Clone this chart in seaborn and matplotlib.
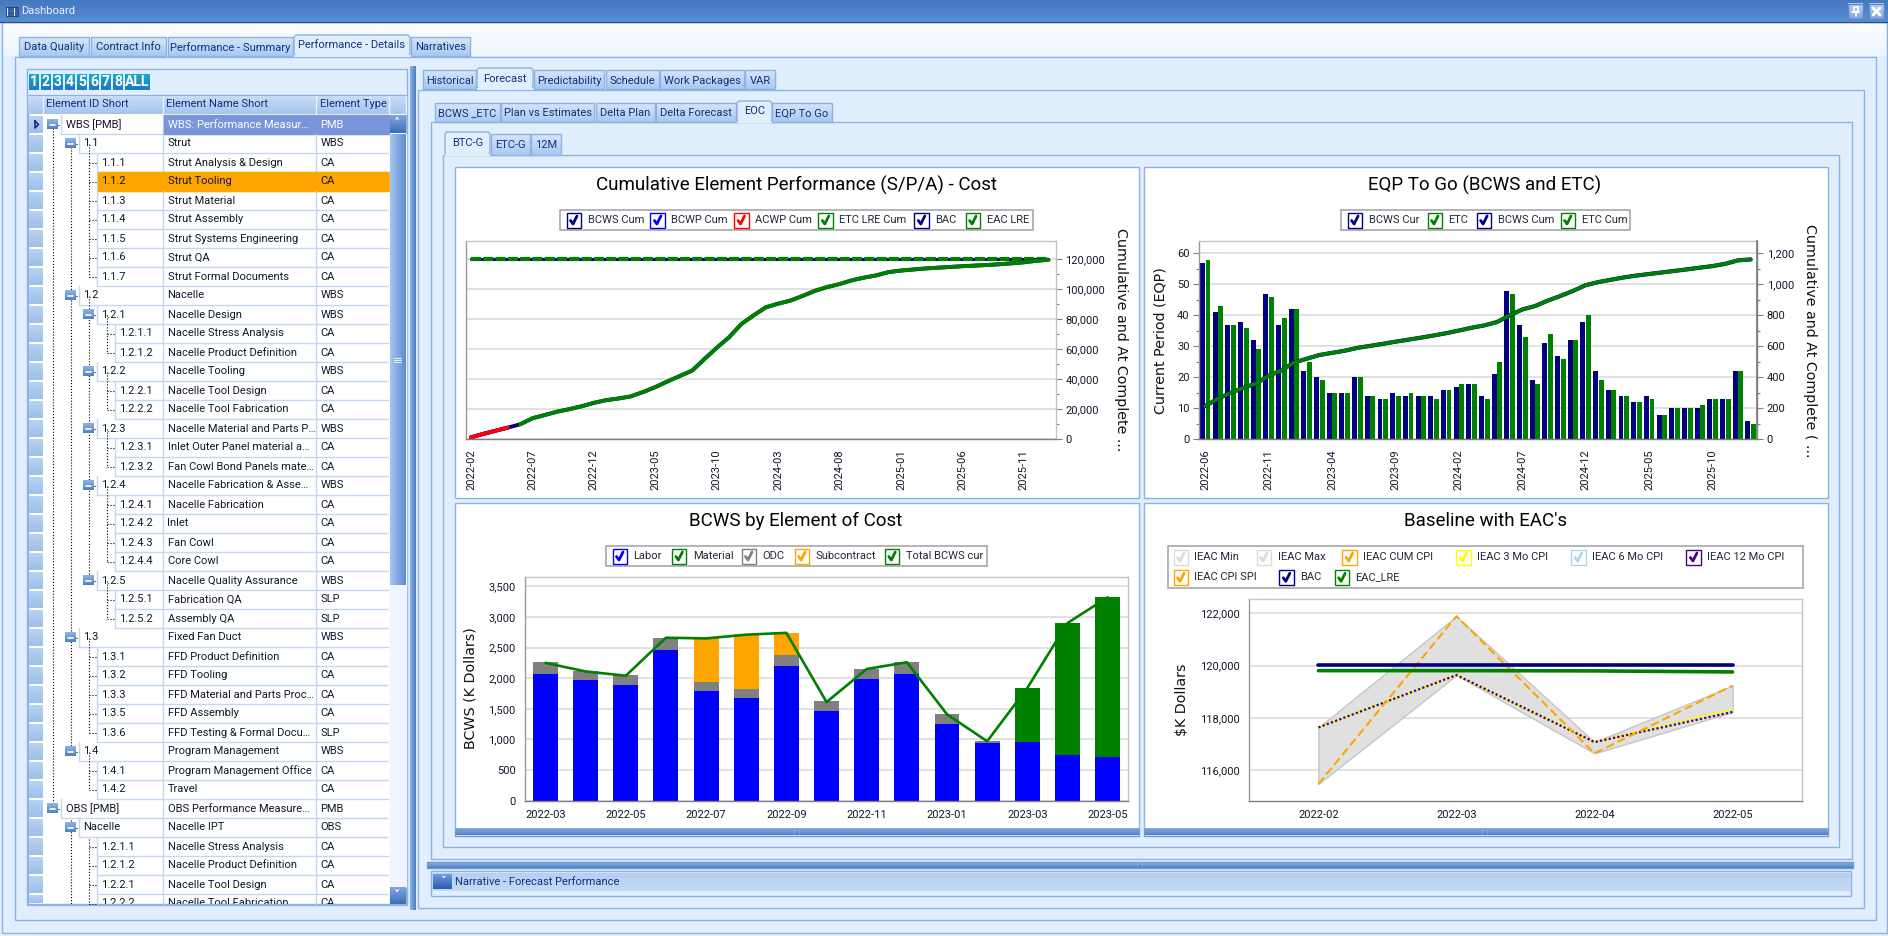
import matplotlib
matplotlib.use("Agg")
import matplotlib.pyplot as plt
import numpy as np
import seaborn as sns
from matplotlib.patches import Rectangle, FancyBboxPatch

W, H = 1888, 936

# cumulative element performance
perf_months = [f"{y}-{m:02d}" for y in range(2022, 2026) for m in range(1, 13)][1:] + ["2026-01"]
bcws_cum = [1300, 3600, 5700, 7800, 10000, 14000, 16200, 18400, 20100, 22000, 24300, 26100,
            27200, 28600, 31500, 34800, 38600, 42200, 45800, 53500, 61000, 68000, 76800, 82600,
            88000, 90400, 92500, 95600, 99000, 101500, 103500, 106000, 107800, 109300, 111500, 112500,
            113200, 113900, 114400, 114900, 115400, 115800, 116200, 116700, 117300, 118000, 119000, 119700]
bcwp_cum = [1300, 3600, 5700, 7800]
acwp_cum = [1300, 3600, 5700, 7800]
bac_flat = [120000] * 48
eac_flat = [119950] * 48

# EQP to go
eqp_months = perf_months[4:]
eqp_bcws = [57, 41, 37, 38, 32, 47, 37, 42, 22, 20, 15, 15, 20, 14, 13, 15, 14, 14, 14, 16, 17, 18,
            14, 21, 48, 37, 19, 31, 27, 32, 38, 22, 16, 14, 12, 14, 8, 10, 10, 10, 13, 13, 22, 6]
eqp_etc = [58, 43, 37, 36, 29, 46, 39, 42, 25, 19, 15, 15, 20, 14, 13, 14, 15, 14, 13, 16, 18, 18,
           13, 25, 47, 33, 18, 34, 26, 32, 40, 19, 16, 14, 12, 13, 8, 10, 10, 11, 13, 13, 22, 5]
eqp_etc_cum = [215, 262, 300, 332, 360, 410, 445, 495, 520, 544, 558, 572, 590, 603, 616, 630, 643, 656,
               670, 685, 702, 720, 735, 757, 800, 838, 860, 895, 925, 958, 995, 1015, 1030, 1045, 1057,
               1067, 1077, 1087, 1097, 1108, 1118, 1133, 1155, 1161]

# BCWS by element of cost
eoc_months = perf_months[1:16]
eoc_labor = [2070, 1970, 1890, 2460, 1790, 1680, 2200, 1460, 1990, 2070, 1250, 950, 960, 740, 720]
eoc_odc = [190, 140, 160, 190, 150, 140, 180, 160, 160, 190, 160, 20, 0, 0, 0]
eoc_sub = [0, 0, 0, 0, 710, 895, 360, 0, 0, 0, 0, 0, 0, 0, 0]
eoc_material = [0, 0, 0, 0, 0, 0, 0, 0, 0, 0, 0, 0, 880, 2160, 2600]
eoc_total = [2250, 2110, 2040, 2660, 2650, 2710, 2740, 1610, 2150, 2260, 1410, 970, 1840, 2900, 3320]

# baseline with EACs
eac_months = ["2022-02", "2022-03", "2022-04", "2022-05"]
ieac_min = [115480, 119640, 116650, 118230]
ieac_max = [117640, 121890, 117080, 119240]
ieac_cum_cpi = [115480, 121890, 116650, 119240]
ieac_3mo = [117640, 119640, 117080, 118330]
ieac_6mo = [117640, 119640, 117080, 118250]
ieac_12mo = [117640, 119640, 117080, 118230]
base_bac = [120010, 120010, 120010, 120010]
base_eac = [119810, 119810, 119800, 119760]

# element tree: level, has expander, id, name, type
tree_rows = [
    (0, 1, "WBS [PMB]", "WBS: Performance Measur…", "PMB"),
    (1, 1, "1.1", "Strut", "WBS"),
    (2, 0, "1.1.1", "Strut Analysis & Design", "CA"),
    (2, 0, "1.1.2", "Strut Tooling", "CA"),
    (2, 0, "1.1.3", "Strut Material", "CA"),
    (2, 0, "1.1.4", "Strut Assembly", "CA"),
    (2, 0, "1.1.5", "Strut Systems Engineering", "CA"),
    (2, 0, "1.1.6", "Strut QA", "CA"),
    (2, 0, "1.1.7", "Strut Formal Documents", "CA"),
    (1, 1, "1.2", "Nacelle", "WBS"),
    (2, 1, "1.2.1", "Nacelle Design", "WBS"),
    (3, 0, "1.2.1.1", "Nacelle Stress Analysis", "CA"),
    (3, 0, "1.2.1.2", "Nacelle Product Definition", "CA"),
    (2, 1, "1.2.2", "Nacelle Tooling", "WBS"),
    (3, 0, "1.2.2.1", "Nacelle Tool Design", "CA"),
    (3, 0, "1.2.2.2", "Nacelle Tool Fabrication", "CA"),
    (2, 1, "1.2.3", "Nacelle Material and Parts P…", "WBS"),
    (3, 0, "1.2.3.1", "Inlet Outer Panel material a…", "CA"),
    (3, 0, "1.2.3.2", "Fan Cowl Bond Panels mate…", "CA"),
    (2, 1, "1.2.4", "Nacelle Fabrication & Asse…", "WBS"),
    (3, 0, "1.2.4.1", "Nacelle Fabrication", "CA"),
    (3, 0, "1.2.4.2", "Inlet", "CA"),
    (3, 0, "1.2.4.3", "Fan Cowl", "CA"),
    (3, 0, "1.2.4.4", "Core Cowl", "CA"),
    (2, 1, "1.2.5", "Nacelle Quality Assurance", "WBS"),
    (3, 0, "1.2.5.1", "Fabrication QA", "SLP"),
    (3, 0, "1.2.5.2", "Assembly QA", "SLP"),
    (1, 1, "1.3", "Fixed Fan Duct", "WBS"),
    (2, 0, "1.3.1", "FFD Product Definition", "CA"),
    (2, 0, "1.3.2", "FFD Tooling", "CA"),
    (2, 0, "1.3.3", "FFD Material and Parts Proc…", "CA"),
    (2, 0, "1.3.5", "FFD Assembly", "CA"),
    (2, 0, "1.3.6", "FFD Testing & Formal Docu…", "SLP"),
    (1, 1, "1.4", "Program Management", "WBS"),
    (2, 0, "1.4.1", "Program Management Office", "CA"),
    (2, 0, "1.4.2", "Travel", "CA"),
    (0, 1, "OBS [PMB]", "OBS Performance Measure…", "PMB"),
    (1, 1, "Nacelle", "Nacelle IPT", "OBS"),
    (2, 0, "1.2.1.1", "Nacelle Stress Analysis", "CA"),
    (2, 0, "1.2.1.2", "Nacelle Product Definition", "CA"),
    (2, 0, "1.2.2.1", "Nacelle Tool Design", "CA"),
    (2, 0, "1.2.2.2", "Nacelle Tool Fabrication", "CA"),
]

BG = "#e0eefd"
EDGE = "#8db2e3"
NAVY_TEXT = "#15307f"
INK = "#10182a"
NAVY, BLUE, GREEN, RED = "#000080", "#0000ff", "#008000", "#ff0000"
ORANGE, GREY = "#ffa500", "#808080"
AXIS_TITLE_SIZE = 10.3

sns.set_theme(style="white")
plt.rcParams["font.family"] = ["Roboto", "DejaVu Sans"]
plt.rcParams["axes.unicode_minus"] = False

fig = plt.figure(figsize=(W / 100, H / 100), dpi=100, facecolor=BG)
ui = fig.add_axes([0, 0, 1, 1], zorder=0)
ui.axis("off")


def box(x0, y0, x1, y1, face="none", edge=EDGE, lw=1.0, zorder=1):
    ui.add_patch(Rectangle((x0, y0), x1 - x0, y1 - y0, facecolor=face, edgecolor=edge, linewidth=lw, zorder=zorder))


def grad(x0, y0, x1, y1, c0, c1, horizontal=False, zorder=1):
    c = np.array([matplotlib.colors.to_rgb(c0), matplotlib.colors.to_rgb(c1)])
    t = np.linspace(0, 1, 32)[:, None]
    img = c[0] + (c[1] - c[0]) * t
    img = img[None, :, :] if horizontal else img[:, None, :]
    ui.imshow(img, extent=(x0, x1, y1, y0), aspect="auto", zorder=zorder, interpolation="bilinear")


def label(x, y, s, size=8.0, color=INK, ha="left", zorder=6, **kw):
    return ui.text(x, y, s, fontsize=size, color=color, ha=ha, va="center", zorder=zorder, **kw)


def tabs(items, y0, y1, active):
    for i, (name, x0, x1) in enumerate(items):
        if i == active:
            ui.add_patch(FancyBboxPatch((x0, y0 - 2), x1 - x0, y1 - y0 + 2, boxstyle="round,pad=0,rounding_size=3",
                                        facecolor=BG, edgecolor=EDGE, linewidth=1, zorder=3))
            ui.plot([x0 + 0.8, x1 - 0.8], [y1, y1], color=BG, lw=1.6, zorder=4)
            label((x0 + x1) / 2, (y0 + y1) / 2 - 1, name, ha="center", color=NAVY_TEXT)
        else:
            grad(x0, y0, x1, y1, "#d6e6fa", "#a9c9ef")
            box(x0, y0, x1, y1)
            label((x0 + x1) / 2, (y0 + y1) / 2 + 1, name, ha="center", color=NAVY_TEXT)


def splitter_h(x0, y0, x1, y1):
    grad(x0, y0, x1, y1, "#8db5e8", "#4f7dbf")
    box(x0, y0, x1, y1, edge="#6f9ad6")
    label((x0 + x1) / 2, (y0 + y1) / 2 - 1, "⋮⋮", size=4, color="#d8e6f8", ha="center", family="DejaVu Sans")


def check_legend(frame, items):
    box(*frame, face="white", edge="#a8a8a8", lw=1.2)
    for name, color, x, y in items:
        box(x, y - 7.5, x + 14.5, y + 7.5, face="white", edge=color, lw=1.0, zorder=3)
        ui.plot([x + 4, x + 6.5, x + 10.5], [y + 0.5, y + 4, y - 4], color=color, lw=2.0, zorder=4)
        label(x + 21, y, name, size=8.0, color="#222a38")


# window chrome
box(0, 0, W, H, face=BG, edge=BG)
grad(2, 23, W - 2, 56, "#fbfdff", "#eef5fe")
grad(0, 0, W, 22, "#4578c0", "#568fd2")
ui.plot([0, W], [22, 22], color="#2c4f96", lw=1, zorder=2)
box(1.5, 22, W - 1.5, 933, edge=EDGE)
box(6, 7, 18, 16, face="white", edge="#334466", lw=0.8, zorder=3)
for gx in (8.5, 12, 15.5):
    for gy in (9, 11.5, 14):
        ui.plot([gx], [gy], marker="s", ms=1.3, color="#3355aa", zorder=4)
label(21, 11.5, "Dashboard", size=8.0, color="#e8f0fb")
for bx in (1848, 1869):
    grad(bx, 3.5, bx + 15, 19, "#c0d6f6", "#7ca3dc", zorder=3)
    box(bx, 3.5, bx + 15, 19, edge="#5f86c4", zorder=4)
ui.plot([1852, 1859], [12, 12], color="white", lw=1.4, zorder=5)
ui.plot([1853.5, 1853.5, 1857.5, 1857.5], [12, 7, 7, 12], color="white", lw=1.2, zorder=5)
ui.plot([1855.5, 1855.5], [12, 16], color="white", lw=1.2, zorder=5)
ui.plot([1873, 1880], [8, 15], color="white", lw=2, zorder=5)
ui.plot([1873, 1880], [15, 8], color="white", lw=2, zorder=5)

box(14.5, 56.5, 1875.5, 920, face=BG, edge=EDGE)
tabs([("Data Quality", 19, 89), ("Contract Info", 91, 166), ("Performance - Summary", 168, 293),
      ("Performance - Details", 294, 410), ("Narratives", 411, 470)], 37, 56, 3)

# left grid
box(26.5, 68.5, 407, 905, face=BG, edge=EDGE)
strip_x = [29, 41, 53, 65, 77, 89, 101, 113]
for n, sx in enumerate(strip_x):
    grad(sx, 74, sx + 10, 90, "#18acc8", "#1c78c4", zorder=3)
    label(sx + 5, 82, str(n + 1), size=10, color="white", ha="center", weight="bold")
grad(125, 74, 150, 90, "#18acc8", "#1c78c4", zorder=3)
label(137.5, 82, "ALL", size=10, color="white", ha="center", weight="bold")

ROW0, ROWH = 115, 19
GRID_BOTTOM = 904
box(28, 95, 406, GRID_BOTTOM, face="white", edge=EDGE)
for x0, x1, name in ((28, 43, ""), (43, 163, "Element ID Short"), (163, 316, "Element Name Short"),
                     (316, 389, "Element Type"), (389, 406, "")):
    grad(x0, 96, x1, 114, "#c8dcf6", "#a6c5ec", zorder=2)
    ui.plot([x1, x1], [96, 114], color="#e8f1fc", lw=1, zorder=3)
    if name:
        label(x0 + 3.5, 104, name, color=NAVY_TEXT)

clip = Rectangle((28, 95), 361, GRID_BOTTOM - 95, transform=ui.transData)
LEVEL_X = [61, 79, 97, 115]
for i, (lev, exp, rid, name, typ) in enumerate(tree_rows):
    y0 = ROW0 + i * ROWH
    y1 = y0 + ROWH
    cy = y0 + 9.5
    if y0 >= GRID_BOTTOM:
        break
    y_end = min(y1, GRID_BOTTOM)
    grad(28.5, y0 + 1, 42.5, y_end - 1, "#b7d2f3", "#9ec0ea", zorder=2)
    ui.plot([163, 163], [y0, y_end], color="#c3d7f2", lw=1, zorder=2)
    ui.plot([316, 316], [y0, y_end], color="#c3d7f2", lw=1, zorder=2)
    ui.plot([LEVEL_X[lev], LEVEL_X[lev]], [y0, y_end], color="#c3d7f2", lw=1, zorder=2)
    if y1 <= GRID_BOTTOM:
        ui.plot([LEVEL_X[lev], 388], [y1, y1], color="#c3d7f2", lw=1, zorder=2)
    if i == 0:
        box(163.5, y0, 388.5, y1, face="#7a95dc", edge="#7a95dc", zorder=2)
        ui.plot([35, 35, 38.5, 35], [cy - 3.5, cy + 3.5, cy, cy - 3.5], color="#15307f", lw=1.2, zorder=4)
    if i == 3:
        box(97.5, y0, 388.5, y1 - 0.5, face=ORANGE, edge=ORANGE, zorder=2)
    color = "white" if i == 0 else INK
    for tx, s, c in ((LEVEL_X[lev] + 4.5, rid, INK), (167.5, name, color), (320.5, typ, color)):
        t = label(tx, cy, s, color=c)
        t.set_clip_on(True)
        t.set_clip_path(clip)
    bx = LEVEL_X[lev] - 8.5
    if exp:
        grad(bx - 5.5, cy - 5, bx + 5.5, cy + 5, "#8fb4e6", "#4f80c4", zorder=4)
        ui.plot([bx - 2.5, bx + 2.5], [cy, cy], color="white", lw=1.2, zorder=5)
        ui.plot([bx + 5.5, bx + 8], [cy, cy], color="black", lw=0.8, ls=":", zorder=2)
    else:
        ui.plot([bx, bx + 8], [cy, cy], color="black", lw=0.8, ls=":", zorder=2)

# dotted tree guides, one per parent block
for x_line, start, stop in ((52.5, 0, 36), (70.5, 1, 33), (88.5, 1, 8), (88.5, 9, 24), (106.5, 10, 12),
                            (106.5, 13, 15), (106.5, 16, 18), (106.5, 19, 23), (106.5, 24, 26),
                            (88.5, 27, 32), (88.5, 33, 35), (70.5, 36.6, 41.3), (88.5, 37.6, 41.3)):
    ui.plot([x_line, x_line], [ROW0 + start * ROWH + 9.5, min(ROW0 + stop * ROWH + 9.5, GRID_BOTTOM)],
            color="black", lw=0.8, ls=":", zorder=2)

# scrollbar
box(389.5, 134, 406, 887, face="#eef5fe", edge="#eef5fe", zorder=2)
grad(389.5, 115, 405.5, 133, "#7ea6e0", "#3f6fb8", zorder=3)
label(397.5, 123, "˄", size=9, color="white", ha="center", family="DejaVu Sans", weight="bold")
grad(389.5, 134, 405.5, 585, "#a3c6f0", "#5f8bcc", horizontal=True, zorder=3)
for gy in (357.5, 359.5, 361.5):
    ui.plot([394, 401], [gy, gy], color="#e2edfb", lw=0.8, zorder=4)
grad(389.5, 887, 405.5, 904, "#7ea6e0", "#3f6fb8", zorder=3)
label(397.5, 895, "˅", size=9, color="white", ha="center", family="DejaVu Sans", weight="bold")

grad(410, 66, 416, 910, "#8db5e8", "#4f7dbf", horizontal=True)

# right side frames
box(418, 89.5, 1864, 908, edge=EDGE)
tabs([("Historical", 423, 476), ("Forecast", 477, 533), ("Predictability", 534, 604), ("Schedule", 606, 659),
      ("Work Packages", 660, 744), ("VAR", 745, 775)], 70, 89, 1)
box(430.5, 122, 1852, 859, edge=EDGE)
tabs([("BCWS _ETC", 435, 500), ("Plan vs Estimates", 501, 594), ("Delta Plan", 596, 655),
      ("Delta Forecast", 656, 736), ("EOC", 737, 772), ("EQP To Go", 772, 832)], 103, 122, 4)
box(442.5, 155, 1839, 847, edge=EDGE)
tabs([("BTC-G", 445, 490), ("ETC-G", 491, 530), ("12M", 531, 561)], 134, 155, 0)

for x0, x1 in ((454.5, 1139), (1143.5, 1827.5)):
    box(x0, 167, x1, 498, face="white", edge=EDGE)
    box(x0, 503, x1, 829, face="white", edge=EDGE)
    splitter_h(x0, 829, x1, 835.5)
splitter_h(427, 862, 1853, 868)

box(431, 871, 1851, 896, edge=EDGE)
grad(431.5, 873, 1850.5, 891, "#b4d0f2", "#c4daf5")
grad(433, 874, 452, 889, "#6f9be0", "#2c5cb0", zorder=3)
label(442.5, 881, "˅", size=8, color="white", ha="center", family="DejaVu Sans", weight="bold")
label(455, 882, "Narrative - Forecast Performance", color=NAVY_TEXT)

# legends
check_legend((560, 209.7, 1032.6, 230.3), [
    ("BCWS Cum", NAVY, 566.5, 220), ("BCWP Cum", BLUE, 650.4, 220), ("ACWP Cum", RED, 734, 220),
    ("ETC LRE Cum", GREEN, 818.3, 220), ("BAC", NAVY, 914.3, 220), ("EAC LRE", GREEN, 965.6, 220)])
check_legend((1341, 209.7, 1629.7, 230.3), [
    ("BCWS Cur", NAVY, 1347.6, 220), ("ETC", GREEN, 1427.5, 220), ("BCWS Cum", NAVY, 1476.6, 220),
    ("ETC Cum", GREEN, 1560.5, 220)])
check_legend((606, 545.7, 986.6, 566.3), [
    ("Labor", BLUE, 612.5, 556), ("Material", GREEN, 671.9, 556), ("ODC", GREY, 741.5, 556),
    ("Subcontract", ORANGE, 794.6, 556), ("Total BCWS cur", GREEN, 884.8, 556)])
check_legend((1167.7, 545.7, 1803.4, 588.3), [
    ("IEAC Min", "#dcdcdc", 1173.5, 557), ("IEAC Max", "#dcdcdc", 1256.5, 557), ("IEAC CUM CPI", ORANGE, 1342.2, 557),
    ("IEAC 3 Mo CPI", "#ffff00", 1456, 557), ("IEAC 6 Mo CPI", "#add8e6", 1571.2, 557),
    ("IEAC 12 Mo CPI", "#4b0082", 1686.4, 557), ("IEAC CPI SPI", ORANGE, 1173.5, 577.3),
    ("BAC", NAVY, 1279.3, 577.3), ("EAC_LRE", GREEN, 1334.6, 577.3)])


def chart_axes(x0, y0, x1, y1):
    ax = fig.add_axes([x0 / W, 1 - y1 / H, (x1 - x0) / W, (y1 - y0) / H], zorder=2, facecolor="white")
    ax._px = (x0, y0, x1, y1)
    return ax


def style_axes(ax, title, title_cx, title_cy, ylabel, label_x, label_cy, right=False):
    x0, y0, x1, y1 = ax._px
    ax.set_title(title, x=(title_cx - x0) / (x1 - x0), y=(y1 - title_cy) / (y1 - y0), va="center",
                 fontsize=13.5, color="black", pad=0)
    if right:
        ax.yaxis.set_label_position("right")
    ax.set_ylabel(ylabel, fontsize=AXIS_TITLE_SIZE, family=["DejaVu Sans"], color="#111111",
                  rotation=270 if right else 90, va="center", ha="center")
    ax.yaxis.set_label_coords((label_x - x0) / (x1 - x0), (y1 - label_cy) / (y1 - y0))
    for side, c in (("top", "#c4c4c4"), ("left", "#999999"), ("right", "#c4c4c4"), ("bottom", "#808080")):
        ax.spines[side].set_color(c)
        ax.spines[side].set_linewidth(1.0)
        ax.spines[side].set_visible(True)
    ax.set_axisbelow(True)
    ax.grid(False)
    ax.yaxis.grid(True, color="#dcdcdc", lw=1.2)
    ax.tick_params(axis="both", which="major", length=4, width=0.8, color="#808080", labelsize=8, labelcolor=INK, pad=3)
    ax.tick_params(axis="both", which="minor", length=2.5, width=0.8, color="#808080")
    ax.set_xlabel("")


def fmt_y(ax, ticks):
    ax.set_yticks(ticks)
    ax.set_yticklabels([f"{t:,}" for t in ticks])


# chart 1
ax1 = chart_axes(465.6, 241, 1055.8, 439.3)
idx1 = np.arange(len(perf_months))
sns.lineplot(x=idx1, y=bac_flat, color=NAVY, linewidth=2.2, ax=ax1, errorbar=None)
sns.lineplot(x=idx1, y=eac_flat, color=GREEN, linewidth=3.0, linestyle=(0, (2.4, 0.55)), ax=ax1, errorbar=None)
sns.lineplot(x=idx1, y=bcws_cum, color=NAVY, linewidth=2.8, ax=ax1, errorbar=None)
sns.lineplot(x=idx1[:4], y=bcwp_cum, color=BLUE, linewidth=2.8, ax=ax1, errorbar=None)
sns.lineplot(x=idx1[:4], y=acwp_cum, color=RED, linewidth=2.8, ax=ax1, errorbar=None)
sns.lineplot(x=idx1[4:], y=bcws_cum[4:], color=GREEN, linewidth=2.8, ax=ax1, errorbar=None)
ax1.set_xlim(-0.44, 47.6)
ax1.set_ylim(0, 132200)
style_axes(ax1, "Cumulative Element Performance (S/P/A) - Cost", 796, 185,
           "Cumulative and At Complete ...", 1121, 340, right=True)
ax1.yaxis.tick_right()
fmt_y(ax1, list(range(0, 120001, 20000)))
ax1.set_yticks(np.arange(10000, 130000, 20000), minor=True)
ax1.set_xticks(idx1[::5][:10])
ax1.set_xticklabels(perf_months[::5][:10], rotation=90)
ax1.set_xticks(idx1, minor=True)

# chart 2
ax2 = chart_axes(1199.4, 241, 1757, 439.3)
idx2 = np.arange(len(eqp_months))
sns.barplot(x=idx2, y=eqp_bcws, color=NAVY, saturation=1, width=0.39, linewidth=0, ax=ax2, errorbar=None, native_scale=True)
for p in ax2.patches:
    p.set_x(p.get_x() - 0.22)
n_bars = len(ax2.patches)
sns.barplot(x=idx2, y=eqp_etc, color=GREEN, saturation=1, width=0.39, linewidth=0, ax=ax2, errorbar=None, native_scale=True)
for p in ax2.patches[n_bars:]:
    p.set_x(p.get_x() + 0.22)
ax2.set_xlim(-0.46, 43.5)
ax2.set_ylim(0, 64)
style_axes(ax2, "EQP To Go (BCWS and ETC)", 1485, 185, "Current Period (EQP)", 1160, 341)
ax2.set_yticks(range(0, 61, 10))
ax2.set_yticks(range(5, 65, 10), minor=True)
ax2.set_xticks(idx2[::5])
ax2.set_xticklabels(eqp_months[::5], rotation=90)
ax2.set_xticks(idx2, minor=True)
ax2.spines["right"].set_color("#808080")

tw = ax2.twinx()
tw.set_zorder(3)
sns.lineplot(x=idx2, y=eqp_etc_cum, color=NAVY, linewidth=3.0, ax=tw, errorbar=None)
sns.lineplot(x=idx2, y=eqp_etc_cum, color=GREEN, linewidth=2.6, ax=tw, errorbar=None)
tw.set_xlim(-0.46, 43.5)
tw.set_ylim(0, 1280)
tw.grid(False)
tw.set_ylabel("Cumulative and At Complete ( ...", fontsize=AXIS_TITLE_SIZE, family=["DejaVu Sans"], color="#111111",
              rotation=270, va="center", ha="center")
tw.yaxis.set_label_coords((1809.6 - 1199.4) / (1757 - 1199.4), (439.3 - 340.5) / (439.3 - 241))
fmt_y(tw, list(range(0, 1201, 200)))
tw.set_yticks(range(100, 1300, 200), minor=True)
tw.tick_params(axis="y", which="major", length=4, width=0.8, color="#808080", labelsize=8, labelcolor=INK, pad=3)
tw.tick_params(axis="y", which="minor", length=2.5, width=0.8, color="#808080", right=True)
for side in tw.spines.values():
    side.set_visible(False)
tw.spines["right"].set_visible(True)
tw.spines["right"].set_color("#808080")

# chart 3
ax3 = chart_axes(525.4, 577.3, 1127.7, 800.7)
idx3 = np.arange(len(eoc_months))
bottom = np.zeros(len(eoc_months))
for vals, color in ((eoc_labor, BLUE), (eoc_odc, GREY), (eoc_sub, ORANGE), (eoc_material, GREEN)):
    sns.barplot(x=idx3, y=vals, bottom=bottom, color=color, saturation=1, width=0.62, linewidth=0, ax=ax3,
                errorbar=None, native_scale=True)
    bottom = bottom + np.array(vals)
sns.lineplot(x=idx3, y=eoc_total, color=GREEN, linewidth=1.9, ax=ax3, errorbar=None)
ax3.set_xlim(-0.5, 14.5)
ax3.set_ylim(0, 3647)
style_axes(ax3, "BCWS by Element of Cost", 796, 521, "BCWS (K Dollars)", 470, 688)
fmt_y(ax3, list(range(0, 3501, 500)))
ax3.set_yticks(range(250, 3600, 500), minor=True)
ax3.set_xticks(idx3[::2])
ax3.set_xticklabels(eoc_months[::2], rotation=0)
ax3.set_xticks(np.arange(-0.4, 14.5, 0.4), minor=True)

# chart 4
ax4 = chart_axes(1249.4, 599.3, 1801.6, 800.7)
idx4 = np.arange(len(eac_months))
ax4.fill_between(idx4, ieac_min, ieac_max, facecolor="#e0e0e0", edgecolor="#c6c6c6", linewidth=1.0, zorder=1.5)
sns.lineplot(x=idx4, y=ieac_6mo, color="#add8e6", linewidth=1.6, linestyle=(0, (1, 1)), ax=ax4, errorbar=None)
sns.lineplot(x=idx4, y=ieac_3mo, color="#ffff00", linewidth=1.6, linestyle=(0, (2, 1)), ax=ax4, errorbar=None)
sns.lineplot(x=idx4, y=ieac_12mo, color="#4b0082", linewidth=1.6, linestyle=(0, (1, 1)), ax=ax4, errorbar=None)
sns.lineplot(x=idx4, y=ieac_cum_cpi, color=ORANGE, linewidth=1.5, linestyle=(0, (4, 2)), ax=ax4, errorbar=None)
sns.lineplot(x=idx4, y=base_bac, color=NAVY, linewidth=2.6, ax=ax4, errorbar=None)
sns.lineplot(x=idx4, y=base_eac, color=GREEN, linewidth=2.6, ax=ax4, errorbar=None)
ax4.set_xlim(-0.5, 3.5)
ax4.set_ylim(114841, 122535)
style_axes(ax4, "Baseline with EAC's", 1485, 521, "$K Dollars", 1182, 700)
fmt_y(ax4, [116000, 118000, 120000, 122000])
ax4.set_yticks([a + s for a in (114000, 116000, 118000, 120000) for s in (667, 1333) if 114841 < a + s < 122535], minor=True)
ax4.set_xticks(idx4)
ax4.set_xticklabels(eac_months, rotation=0)
ax4.set_xticks(np.arange(-0.4, 3.5, 0.2), minor=True)

ui.set_xlim(0, W)
ui.set_ylim(H, 0)

fig.savefig("out.png", dpi=100, facecolor=BG)
